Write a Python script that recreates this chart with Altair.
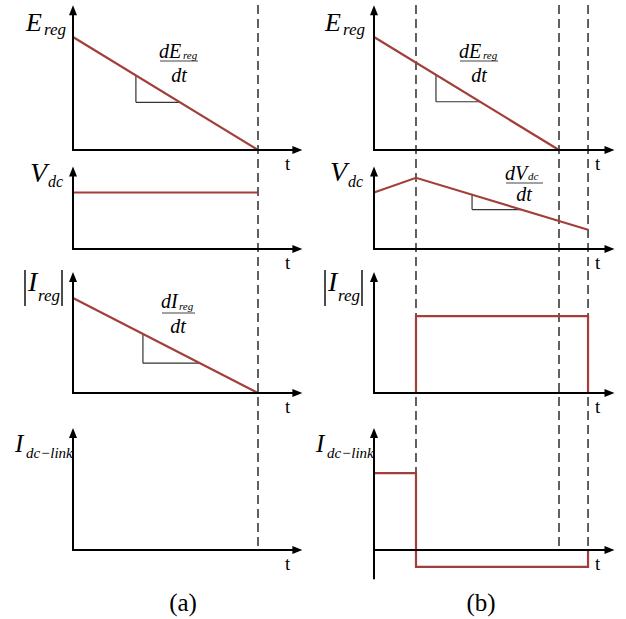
import altair as alt
import pandas as pd

W, H = 626, 619
RED = "#a23f3a"
DASH = "#3a3a3a"
INK = "#000000"
SERIF = "Liberation Serif"

# ---- layout: two columns (a), (b) of four stacked panels -------------------
COL_X0 = {"a": 73, "b": 374}          # x of each column's vertical axis
PX_PER_T = 185                         # t = 1 is where E_reg reaches zero
PX_PER_UNIT = 113
ROW_BASE = [150, 249, 393, 550]        # y of each row's time axis

# axis extents (t for the time axis, value units for the vertical axis)
T_AXIS_END = {"a": 1.24, "b": 1.30}
V_AXIS_TOP = [1.28, 0.73, 1.07, 1.08]
V_AXIS_BOTTOM = {("b", 3): -0.25}

# ---- waveforms -----------------------------------------------------------
# case (a)
a_E_t, a_E_v = [0, 1], [1.0, 0.0]
a_V_t, a_V_v = [0, 1], [0.5, 0.5]
a_I_t, a_I_v = [0, 1], [0.84, 0.0]
a_D_t, a_D_v = [0, 1], [0.0, 0.0]
# case (b)
b_E_t, b_E_v = [0, 1], [1.0, 0.0]
b_V_t, b_V_v = [0, 0.227, 1.157], [0.5, 0.63, 0.17]
b_I_t, b_I_v = [0.227, 0.227, 1.157, 1.157], [0.0, 0.68, 0.68, 0.0]
b_D_t, b_D_v = [0, 0.227, 0.227, 1.157, 1.157], [0.68, 0.68, -0.15, -0.15, 0.0]

WAVES = [
    ("a", 0, a_E_t, a_E_v), ("a", 1, a_V_t, a_V_v),
    ("a", 2, a_I_t, a_I_v), ("a", 3, a_D_t, a_D_v),
    ("b", 0, b_E_t, b_E_v), ("b", 1, b_V_t, b_V_v),
    ("b", 2, b_I_t, b_I_v), ("b", 3, b_D_t, b_D_v),
]

# event instants (dashed markers) and the lowest row each one reaches
EVENTS = {"a": [(1.0, 3, 0.0)], "b": [(0.227, 3, 0.68), (1.0, 3, 0.0), (1.157, 3, 0.0)]}
DASH_TOP_Y = 5

# slope triangles: (column, row, waveform index in WAVES, t_start, t_end)
SLOPES = [("a", 0, 0, 0.34, 0.578), ("b", 0, 4, 0.335, 0.573),
          ("a", 2, 2, 0.378, 0.686), ("b", 1, 5, 0.53, 0.795)]


def px(col, t):
    return COL_X0[col] + PX_PER_T * t


def py(row, v):
    return ROW_BASE[row] - PX_PER_UNIT * v


def interp(ts, vs, t):
    for i in range(len(ts) - 1):
        if ts[i] <= t <= ts[i + 1] and ts[i + 1] > ts[i]:
            f = (t - ts[i]) / (ts[i + 1] - ts[i])
            return vs[i] + f * (vs[i + 1] - vs[i])
    return vs[-1]


# ---- tables ----------------------------------------------------------------
wave_rows = []
for sid, (col, row, ts, vs) in enumerate(WAVES):
    for k, (t, v) in enumerate(zip(ts, vs)):
        wave_rows.append({"sid": sid, "k": k, "x": px(col, t), "y": py(row, v)})
wave_df = pd.DataFrame(wave_rows)

ARROW_LEN = 10
axis_rows, up_tips, right_tips = [], [], []
for col in ("a", "b"):
    for row in range(4):
        x0 = px(col, 0)
        xe = px(col, T_AXIS_END[col])
        y0 = py(row, 0)
        yt = py(row, V_AXIS_TOP[row])
        yb = py(row, V_AXIS_BOTTOM.get((col, row), 0.0))
        axis_rows.append({"x": x0, "y": y0, "x2": xe - ARROW_LEN + 1, "y2": y0})
        axis_rows.append({"x": x0, "y": yb + 1, "x2": x0, "y2": yt + ARROW_LEN - 1})
        up_tips.append({"x": x0, "y": yt + ARROW_LEN / 2})
        right_tips.append({"x": xe - ARROW_LEN / 2, "y": y0})
axis_df = pd.DataFrame(axis_rows)
up_df = pd.DataFrame(up_tips)
right_df = pd.DataFrame(right_tips)

dash_rows = []
for col, evs in EVENTS.items():
    for t, row, v in evs:
        dash_rows.append({"x": px(col, t), "y": DASH_TOP_Y, "x2": px(col, t), "y2": py(row, v)})
dash_df = pd.DataFrame(dash_rows)

tri_rows = []
for col, row, wi, t1, t2 in SLOPES:
    _, _, ts, vs = WAVES[wi]
    v1, v2 = interp(ts, vs, t1), interp(ts, vs, t2)
    tri_rows.append({"x": px(col, t1), "y": py(row, v1), "x2": px(col, t1), "y2": py(row, v2)})
    tri_rows.append({"x": px(col, t1), "y": py(row, v2), "x2": px(col, t2), "y2": py(row, v2)})
tri_df = pd.DataFrame(tri_rows)

# fraction bars and |.| bars
frac_df = pd.DataFrame([
    {"x": 160, "y": 61, "x2": 198, "y2": 61},
    {"x": 460, "y": 61, "x2": 498, "y2": 61},
    {"x": 162, "y": 313, "x2": 195, "y2": 313},
    {"x": 506, "y": 183, "x2": 543, "y2": 183},
])
abs_df = pd.DataFrame([
    {"x": 25, "y": 270, "x2": 25, "y2": 306},
    {"x": 62, "y": 270, "x2": 62, "y2": 306},
    {"x": 325, "y": 270, "x2": 325, "y2": 306},
    {"x": 362, "y": 270, "x2": 362, "y2": 306},
])

# italic symbols (left aligned, alphabetic baseline)
ital_df = pd.DataFrame([
    {"x": 26, "y": 31, "s": 26, "text": "E"},
    {"x": 44, "y": 35, "s": 17, "text": "reg"},
    {"x": 325, "y": 31, "s": 26, "text": "E"},
    {"x": 343, "y": 35, "s": 17, "text": "reg"},
    {"x": 30, "y": 182, "s": 28, "text": "V"},
    {"x": 48, "y": 187, "s": 16, "text": "dc"},
    {"x": 330, "y": 181, "s": 28, "text": "V"},
    {"x": 348, "y": 187, "s": 16, "text": "dc"},
    {"x": 28, "y": 291, "s": 28, "text": "I"},
    {"x": 38, "y": 301, "s": 17, "text": "reg"},
    {"x": 328, "y": 291, "s": 28, "text": "I"},
    {"x": 338, "y": 301, "s": 17, "text": "reg"},
    {"x": 15, "y": 452, "s": 25, "text": "I"},
    {"x": 26, "y": 458, "s": 15, "text": "dc\u2212link"},
    {"x": 316, "y": 452, "s": 25, "text": "I"},
    {"x": 327, "y": 458, "s": 15, "text": "dc\u2212link"},
    {"x": 159, "y": 58, "s": 20, "text": "dE"},
    {"x": 183, "y": 59, "s": 11, "text": "reg"},
    {"x": 459, "y": 58, "s": 20, "text": "dE"},
    {"x": 483, "y": 59, "s": 11, "text": "reg"},
    {"x": 161, "y": 308, "s": 20, "text": "dI"},
    {"x": 179, "y": 310, "s": 11, "text": "reg"},
    {"x": 505, "y": 180, "s": 20, "text": "dV"},
    {"x": 528, "y": 180, "s": 11, "text": "dc"},
])
dt_df = pd.DataFrame([
    {"x": 179, "y": 82, "text": "dt"},
    {"x": 479, "y": 82, "text": "dt"},
    {"x": 178, "y": 333, "text": "dt"},
    {"x": 524, "y": 201, "text": "dt"},
])

t_rows = []
for col, tx in (("a", 285), ("b", 595)):
    for row in range(4):
        t_rows.append({"x": tx, "y": ROW_BASE[row] + 20, "text": "t"})
t_df = pd.DataFrame(t_rows)
cap_df = pd.DataFrame([{"x": 183, "y": 611, "text": "(a)"}, {"x": 481, "y": 611, "text": "(b)"}])

# ---- encodings ---------------------------------------------------------------
XS = alt.Scale(domain=[0, W], nice=False, zero=False)
YS = alt.Scale(domain=[H, 0], nice=False, zero=False)


def X(f="x"):
    return alt.X(f"{f}:Q", scale=XS, axis=None)


def Y(f="y"):
    return alt.Y(f"{f}:Q", scale=YS, axis=None)


def rules(df, **style):
    return alt.Chart(df).mark_rule(**style).encode(
        x=X(), y=Y(), x2=alt.X2("x2:Q"), y2=alt.Y2("y2:Q"))


dashed = rules(dash_df, color=DASH, strokeWidth=1.6, strokeDash=[9, 5])
axes = rules(axis_df, color=INK, strokeWidth=2)
triangles = rules(tri_df, color="#333333", strokeWidth=1.2)
fracs = rules(frac_df, color="#444444", strokeWidth=1)
absbars = rules(abs_df, color=INK, strokeWidth=1.4)

waves = alt.Chart(wave_df).mark_line(color=RED, strokeWidth=2.2, strokeJoin="miter").encode(
    x=X(), y=Y(), detail="sid:N", order="k:Q")

up = alt.Chart(up_df).mark_point(
    shape="M0,-1L0.8,1L-0.8,1Z", filled=True, color=INK, opacity=1, size=100).encode(x=X(), y=Y())
right = alt.Chart(right_df).mark_point(
    shape="M1,0L-1,0.8L-1,-0.8Z", filled=True, color=INK, opacity=1, size=100).encode(x=X(), y=Y())

ital = alt.Chart(ital_df).mark_text(
    font=SERIF, fontStyle="italic", align="left", baseline="alphabetic", color=INK).encode(
    x=X(), y=Y(), text="text:N", size=alt.Size("s:Q", scale=None, legend=None))
dts = alt.Chart(dt_df).mark_text(
    font=SERIF, fontStyle="italic", fontSize=20, align="center", baseline="alphabetic", color=INK).encode(
    x=X(), y=Y(), text="text:N")
tlabels = alt.Chart(t_df).mark_text(
    font=SERIF, fontSize=19, align="left", baseline="alphabetic", color=INK).encode(
    x=X(), y=Y(), text="text:N")
captions = alt.Chart(cap_df).mark_text(
    font=SERIF, fontSize=25, align="center", baseline="alphabetic", color=INK).encode(
    x=X(), y=Y(), text="text:N")

chart = alt.layer(
    dashed, triangles, fracs, waves, axes, up, right, absbars, ital, dts, tlabels, captions
).properties(
    width=W, height=H, padding=0, autosize="none", background="white"
).configure_view(stroke=None)

chart.save("out.html", embed_options={"renderer": "svg", "actions": False})
